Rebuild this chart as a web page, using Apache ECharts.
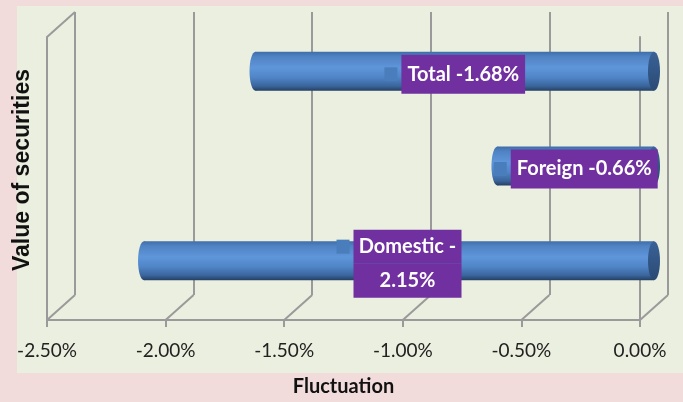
<!DOCTYPE html>
<html>
<head>
<meta charset="utf-8">
<script src="https://cdn.jsdelivr.net/npm/echarts@6/dist/echarts.min.js"></script>
<style>
  html, body { margin: 0; padding: 0; background: #f2dcdb; }
  #chart { width: 683px; height: 402px; }
</style>
</head>
<body>
<div id="chart"></div>
<script>
// data
var categories = ['Domestic', 'Foreign', 'Total']
var fluctuation = [-2.15, -0.66, -1.68]
var tickValues = [-2.5, -2, -1.5, -1, -0.5, 0]
var wrappedLabels = ['Domestic']

var font = "Lato, 'Liberation Sans', sans-serif"
var lineColor = '#9a9a9a'
var depth = [28, -25] // offset of the back wall
var barW = 39

var myChart = echarts.init(document.getElementById('chart'))

function cylinderFill () {
  return new echarts.graphic.LinearGradient(0, 0, 0, 1, [
    { offset: 0, color: '#3f6ea9' },
    { offset: 0.12, color: '#4f82c2' },
    { offset: 0.4, color: '#5f96da' },
    { offset: 0.65, color: '#5086c8' },
    { offset: 0.88, color: '#3a649b' },
    { offset: 1, color: '#243f63' }
  ])
}

function depthLine (params, api) {
  var p = api.coord([api.value(0), api.value(1)])
  return {
    type: 'line',
    shape: { x1: p[0], y1: p[1], x2: p[0] + depth[0], y2: p[1] + depth[1] },
    style: { stroke: lineColor, lineWidth: 2 }
  }
}

// rounded ends of the cylinders: the far end at the value, the near one at 0
function cylinderEnds (params, api) {
  var far = api.coord([api.value(1), api.value(0)])
  var near = api.coord([0, api.value(0)])
  return {
    type: 'group',
    children: [
      {
        type: 'ellipse',
        shape: { cx: far[0], cy: far[1], rx: 6, ry: barW / 2 },
        style: { fill: cylinderFill() }
      },
      {
        type: 'ellipse',
        shape: { cx: near[0], cy: near[1], rx: 6, ry: barW / 2 },
        style: {
          fill: new echarts.graphic.LinearGradient(0, 0, 0, 1, [
            { offset: 0, color: '#3a6297' },
            { offset: 1, color: '#2a4a74' }
          ])
        }
      }
    ]
  }
}

var floorPoints = tickValues.map(function (v) { return [v, 0] })
floorPoints.push([tickValues[0], 1])

myChart.setOption({
  backgroundColor: '#f2dcdb',
  animation: false,
  graphic: [
    {
      type: 'rect',
      z: -10,
      shape: { x: 17, y: 6, width: 666, height: 367 },
      style: { fill: '#ebefdf' },
      silent: true
    },
    {
      type: 'text',
      x: 23,
      y: 170,
      rotation: Math.PI / 2,
      style: {
        text: 'Value of securities',
        font: "bold 23px 'Liberation Sans', Arial, sans-serif",
        fill: '#111',
        align: 'center',
        verticalAlign: 'middle'
      }
    }
  ],
  grid: [
    // front plane (labels)
    { left: 47, right: 43, top: 37, bottom: 82 },
    // back wall
    { left: 75, right: 15, top: 12, bottom: 107 },
    // bars, midway
    { left: 61, right: 29, top: 24, bottom: 94 }
  ],
  xAxis: [
    {
      gridIndex: 0,
      type: 'value',
      min: -2.5,
      max: 0,
      interval: 0.5,
      axisLine: { show: true, onZero: false, lineStyle: { color: lineColor, width: 2 } },
      axisTick: { show: true, length: 7, lineStyle: { color: lineColor, width: 2 } },
      axisLabel: {
        margin: 21,
        color: '#222',
        fontSize: 19,
        fontFamily: font,
        formatter: function (v) { return v.toFixed(2) + '%' }
      },
      splitLine: { show: false },
      name: 'Fluctuation',
      nameLocation: 'middle',
      nameGap: 57,
      nameTextStyle: { color: '#111', fontSize: 20, fontWeight: 'bold', fontFamily: font }
    },
    {
      gridIndex: 1,
      type: 'value',
      min: -2.5,
      max: 0,
      interval: 0.5,
      axisLine: { show: false },
      axisTick: { show: false },
      axisLabel: { show: false },
      splitLine: { show: true, lineStyle: { color: lineColor, width: 2 } }
    },
    {
      gridIndex: 2,
      type: 'value',
      min: -2.5,
      max: 0,
      show: false
    }
  ],
  yAxis: [
    {
      gridIndex: 0,
      type: 'value',
      min: 0,
      max: 1,
      axisLine: { show: true, onZero: false, lineStyle: { color: lineColor, width: 2 } },
      axisTick: { show: false },
      axisLabel: { show: false },
      splitLine: { show: false }
    },
    {
      gridIndex: 0,
      type: 'value',
      position: 'right',
      min: 0,
      max: 1,
      axisLine: { show: true, onZero: false, lineStyle: { color: lineColor, width: 2 } },
      axisTick: { show: false },
      axisLabel: { show: false },
      splitLine: { show: false }
    },
    {
      gridIndex: 1,
      type: 'value',
      min: 0,
      max: 1,
      show: false
    },
    {
      gridIndex: 2,
      type: 'category',
      data: categories,
      show: false
    }
  ],
  series: [
    {
      type: 'custom',
      xAxisIndex: 0,
      yAxisIndex: 0,
      z: 1,
      silent: true,
      renderItem: depthLine,
      data: floorPoints
    },
    {
      type: 'bar',
      xAxisIndex: 2,
      yAxisIndex: 3,
      z: 2,
      barWidth: barW,
      barGap: '-100%',
      itemStyle: { color: cylinderFill() },
      data: fluctuation
    },
    {
      type: 'custom',
      xAxisIndex: 2,
      yAxisIndex: 3,
      z: 3,
      silent: true,
      renderItem: cylinderEnds,
      data: categories.map(function (c, i) { return [i, fluctuation[i]] })
    },
    {
      type: 'bar',
      xAxisIndex: 2,
      yAxisIndex: 3,
      z: 4,
      barWidth: barW,
      barGap: '-100%',
      itemStyle: { color: 'rgba(0,0,0,0)' },
      label: {
        show: true,
        position: 'inside',
        offset: [0, 3],
        formatter: function (p) {
          var txt = p.name + ' ' + p.value.toFixed(2) + '%'
          if (wrappedLabels.indexOf(p.name) >= 0) {
            return '{k|}{s|}{w|' + p.name + ' -}\n{e|}{s|}{w|' + Math.abs(p.value).toFixed(2) + '%}'
          }
          return '{k|}{s|}{t|' + txt + '}'
        },
        rich: {
          k: { width: 13, height: 14, backgroundColor: '#4a7dbb' },
          s: { width: 4 },
          e: { width: 13 },
          t: {
            color: '#fff',
            fontWeight: 'bold',
            fontSize: 20,
            fontFamily: font,
            backgroundColor: '#7030a0',
            padding: [0, 6],
            height: 39,
            lineHeight: 39
          },
          w: {
            color: '#fff',
            fontWeight: 'bold',
            fontSize: 20,
            fontFamily: font,
            backgroundColor: '#7030a0',
            width: 108,
            align: 'center',
            height: 34,
            lineHeight: 34
          }
        }
      },
      data: fluctuation
    }
  ]
})
</script>
</body>
</html>
